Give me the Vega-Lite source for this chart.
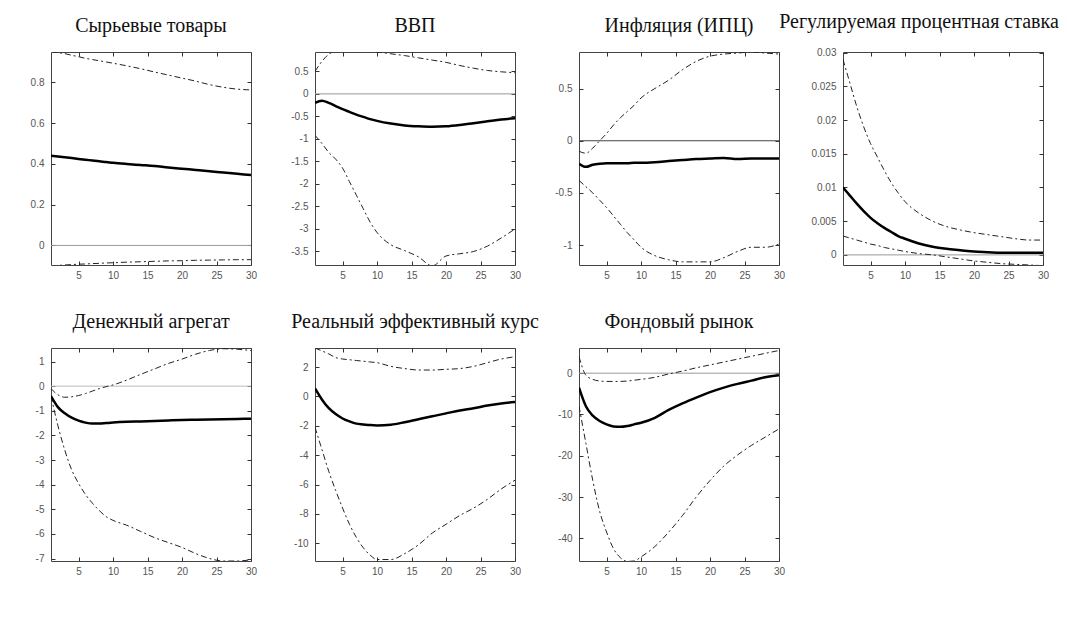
{
"$schema": "https://vega.github.io/schema/vega-lite/v6.json",
"background": "white",
"padding": {"left": 29, "top": 11, "right": 5, "bottom": 5},
"config": {
  "view": {"stroke": "#444", "strokeWidth": 1},
  "axis": {"domain": false, "grid": false, "tickSize": -4, "tickColor": "#333", "labelFont": "Liberation Sans", "labelFontSize": 10, "labelColor": "#555", "labelOverlap": false, "labelFlush": false, "labelBound": false},
  "axisX": {"labelPadding": 9},
  "axisY": {"labelPadding": 11},
  "title": {"font": "Liberation Serif", "fontSize": 20, "fontWeight": "normal", "color": "#111", "offset": 16, "frame": "group"}
},
"datasets": {"d": [
{"p":"P1","t":1,"lo":-0.100,"mid":0.440,"hi":0.950},{"p":"P1","t":2,"lo":-0.098,"mid":0.436,"hi":0.945},{"p":"P1","t":3,"lo":-0.096,"mid":0.432,"hi":0.940},{"p":"P1","t":4,"lo":-0.094,"mid":0.428,"hi":0.932},{"p":"P1","t":5,"lo":-0.092,"mid":0.424,"hi":0.925},{"p":"P1","t":6,"lo":-0.091,"mid":0.420,"hi":0.917},{"p":"P1","t":7,"lo":-0.089,"mid":0.416,"hi":0.911},{"p":"P1","t":8,"lo":-0.088,"mid":0.412,"hi":0.905},{"p":"P1","t":9,"lo":-0.086,"mid":0.409,"hi":0.899},{"p":"P1","t":10,"lo":-0.085,"mid":0.405,"hi":0.893},{"p":"P1","t":12,"lo":-0.082,"mid":0.399,"hi":0.880},{"p":"P1","t":14,"lo":-0.080,"mid":0.394,"hi":0.866},{"p":"P1","t":16,"lo":-0.078,"mid":0.389,"hi":0.850},{"p":"P1","t":18,"lo":-0.076,"mid":0.382,"hi":0.835},{"p":"P1","t":20,"lo":-0.075,"mid":0.376,"hi":0.820},{"p":"P1","t":22,"lo":-0.073,"mid":0.370,"hi":0.805},{"p":"P1","t":24,"lo":-0.072,"mid":0.364,"hi":0.788},{"p":"P1","t":26,"lo":-0.071,"mid":0.357,"hi":0.775},{"p":"P1","t":28,"lo":-0.070,"mid":0.351,"hi":0.766},{"p":"P1","t":30,"lo":-0.070,"mid":0.345,"hi":0.762},
{"p":"P2","t":1,"lo":-0.92,"mid":-0.20,"hi":0.50},{"p":"P2","t":2,"lo":-1.10,"mid":-0.15,"hi":0.72},{"p":"P2","t":3,"lo":-1.30,"mid":-0.20,"hi":0.88},{"p":"P2","t":4,"lo":-1.45,"mid":-0.27,"hi":0.95},{"p":"P2","t":5,"lo":-1.65,"mid":-0.34,"hi":0.97},{"p":"P2","t":6,"lo":-1.95,"mid":-0.40,"hi":0.97},{"p":"P2","t":7,"lo":-2.25,"mid":-0.46,"hi":0.96},{"p":"P2","t":8,"lo":-2.55,"mid":-0.51,"hi":0.95},{"p":"P2","t":9,"lo":-2.85,"mid":-0.56,"hi":0.94},{"p":"P2","t":10,"lo":-3.08,"mid":-0.60,"hi":0.93},{"p":"P2","t":12,"lo":-3.35,"mid":-0.66,"hi":0.89},{"p":"P2","t":14,"lo":-3.48,"mid":-0.70,"hi":0.85},{"p":"P2","t":16,"lo":-3.62,"mid":-0.72,"hi":0.80},{"p":"P2","t":18,"lo":-3.82,"mid":-0.73,"hi":0.75},{"p":"P2","t":20,"lo":-3.60,"mid":-0.72,"hi":0.70},{"p":"P2","t":22,"lo":-3.55,"mid":-0.69,"hi":0.63},{"p":"P2","t":24,"lo":-3.50,"mid":-0.65,"hi":0.57},{"p":"P2","t":26,"lo":-3.38,"mid":-0.61,"hi":0.52},{"p":"P2","t":28,"lo":-3.20,"mid":-0.57,"hi":0.49},{"p":"P2","t":30,"lo":-3.00,"mid":-0.54,"hi":0.47},
{"p":"P3","t":1,"lo":-0.38,"mid":-0.22,"hi":-0.10},{"p":"P3","t":2,"lo":-0.44,"mid":-0.25,"hi":-0.12},{"p":"P3","t":3,"lo":-0.50,"mid":-0.23,"hi":-0.07},{"p":"P3","t":4,"lo":-0.57,"mid":-0.22,"hi":0.00},{"p":"P3","t":5,"lo":-0.64,"mid":-0.215,"hi":0.07},{"p":"P3","t":6,"lo":-0.72,"mid":-0.215,"hi":0.15},{"p":"P3","t":7,"lo":-0.80,"mid":-0.215,"hi":0.22},{"p":"P3","t":8,"lo":-0.88,"mid":-0.215,"hi":0.28},{"p":"P3","t":9,"lo":-0.95,"mid":-0.21,"hi":0.34},{"p":"P3","t":10,"lo":-1.02,"mid":-0.21,"hi":0.41},{"p":"P3","t":12,"lo":-1.10,"mid":-0.205,"hi":0.50},{"p":"P3","t":14,"lo":-1.14,"mid":-0.195,"hi":0.58},{"p":"P3","t":16,"lo":-1.16,"mid":-0.185,"hi":0.68},{"p":"P3","t":18,"lo":-1.16,"mid":-0.175,"hi":0.76},{"p":"P3","t":20,"lo":-1.16,"mid":-0.17,"hi":0.81},{"p":"P3","t":22,"lo":-1.12,"mid":-0.165,"hi":0.83},{"p":"P3","t":24,"lo":-1.06,"mid":-0.175,"hi":0.84},{"p":"P3","t":26,"lo":-1.02,"mid":-0.17,"hi":0.85},{"p":"P3","t":28,"lo":-1.02,"mid":-0.17,"hi":0.84},{"p":"P3","t":30,"lo":-0.99,"mid":-0.17,"hi":0.83},
{"p":"P4","t":1,"lo":0.0028,"mid":0.0100,"hi":0.0290},{"p":"P4","t":2,"lo":0.0025,"mid":0.0088,"hi":0.0255},{"p":"P4","t":3,"lo":0.0022,"mid":0.0076,"hi":0.0220},{"p":"P4","t":4,"lo":0.0019,"mid":0.0065,"hi":0.0190},{"p":"P4","t":5,"lo":0.0016,"mid":0.0055,"hi":0.0165},{"p":"P4","t":6,"lo":0.0014,"mid":0.0047,"hi":0.0145},{"p":"P4","t":7,"lo":0.0011,"mid":0.0040,"hi":0.0125},{"p":"P4","t":8,"lo":0.0009,"mid":0.0034,"hi":0.0107},{"p":"P4","t":9,"lo":0.0007,"mid":0.0028,"hi":0.0092},{"p":"P4","t":10,"lo":0.0005,"mid":0.0024,"hi":0.0079},{"p":"P4","t":12,"lo":0.0002,"mid":0.0017,"hi":0.0062},{"p":"P4","t":14,"lo":0.0000,"mid":0.0012,"hi":0.0050},{"p":"P4","t":16,"lo":-0.0003,"mid":0.0009,"hi":0.0042},{"p":"P4","t":18,"lo":-0.0006,"mid":0.0007,"hi":0.0037},{"p":"P4","t":20,"lo":-0.0009,"mid":0.0005,"hi":0.0033},{"p":"P4","t":22,"lo":-0.0011,"mid":0.0004,"hi":0.0030},{"p":"P4","t":24,"lo":-0.0013,"mid":0.0003,"hi":0.0027},{"p":"P4","t":26,"lo":-0.0014,"mid":0.0003,"hi":0.0024},{"p":"P4","t":28,"lo":-0.0015,"mid":0.0003,"hi":0.0022},{"p":"P4","t":30,"lo":-0.0016,"mid":0.0003,"hi":0.0022},
{"p":"P5","t":1,"lo":-0.40,"mid":-0.40,"hi":-0.10},{"p":"P5","t":2,"lo":-1.60,"mid":-0.85,"hi":-0.35},{"p":"P5","t":3,"lo":-2.60,"mid":-1.10,"hi":-0.45},{"p":"P5","t":4,"lo":-3.40,"mid":-1.28,"hi":-0.43},{"p":"P5","t":5,"lo":-3.95,"mid":-1.40,"hi":-0.38},{"p":"P5","t":6,"lo":-4.40,"mid":-1.48,"hi":-0.30},{"p":"P5","t":7,"lo":-4.75,"mid":-1.52,"hi":-0.20},{"p":"P5","t":8,"lo":-5.05,"mid":-1.52,"hi":-0.10},{"p":"P5","t":9,"lo":-5.30,"mid":-1.50,"hi":-0.02},{"p":"P5","t":10,"lo":-5.45,"mid":-1.48,"hi":0.05},{"p":"P5","t":12,"lo":-5.65,"mid":-1.45,"hi":0.25},{"p":"P5","t":14,"lo":-5.90,"mid":-1.43,"hi":0.48},{"p":"P5","t":16,"lo":-6.15,"mid":-1.41,"hi":0.70},{"p":"P5","t":18,"lo":-6.35,"mid":-1.39,"hi":0.92},{"p":"P5","t":20,"lo":-6.55,"mid":-1.37,"hi":1.10},{"p":"P5","t":22,"lo":-6.80,"mid":-1.36,"hi":1.30},{"p":"P5","t":24,"lo":-7.00,"mid":-1.35,"hi":1.45},{"p":"P5","t":26,"lo":-7.10,"mid":-1.34,"hi":1.52},{"p":"P5","t":28,"lo":-7.10,"mid":-1.33,"hi":1.50},{"p":"P5","t":30,"lo":-7.05,"mid":-1.32,"hi":1.45},
{"p":"P6","t":1,"lo":-2.1,"mid":0.55,"hi":3.3},{"p":"P6","t":2,"lo":-3.6,"mid":-0.20,"hi":3.1},{"p":"P6","t":3,"lo":-5.1,"mid":-0.80,"hi":2.9},{"p":"P6","t":4,"lo":-6.4,"mid":-1.20,"hi":2.65},{"p":"P6","t":5,"lo":-7.6,"mid":-1.50,"hi":2.55},{"p":"P6","t":6,"lo":-8.7,"mid":-1.70,"hi":2.5},{"p":"P6","t":7,"lo":-9.6,"mid":-1.85,"hi":2.45},{"p":"P6","t":8,"lo":-10.3,"mid":-1.90,"hi":2.4},{"p":"P6","t":9,"lo":-10.8,"mid":-1.95,"hi":2.35},{"p":"P6","t":10,"lo":-11.1,"mid":-1.97,"hi":2.3},{"p":"P6","t":12,"lo":-11.1,"mid":-1.92,"hi":2.05},{"p":"P6","t":14,"lo":-10.7,"mid":-1.75,"hi":1.9},{"p":"P6","t":16,"lo":-10.1,"mid":-1.55,"hi":1.8},{"p":"P6","t":18,"lo":-9.3,"mid":-1.35,"hi":1.8},{"p":"P6","t":20,"lo":-8.7,"mid":-1.15,"hi":1.85},{"p":"P6","t":22,"lo":-8.1,"mid":-0.95,"hi":1.9},{"p":"P6","t":24,"lo":-7.6,"mid":-0.80,"hi":2.05},{"p":"P6","t":26,"lo":-7.0,"mid":-0.62,"hi":2.3},{"p":"P6","t":28,"lo":-6.3,"mid":-0.48,"hi":2.55},{"p":"P6","t":30,"lo":-5.7,"mid":-0.38,"hi":2.7},
{"p":"P7","t":1,"lo":-8,"mid":-3.5,"hi":4.0},{"p":"P7","t":2,"lo":-17,"mid":-8.0,"hi":-0.5},{"p":"P7","t":3,"lo":-26,"mid":-10.3,"hi":-1.5},{"p":"P7","t":4,"lo":-33.5,"mid":-11.6,"hi":-1.9},{"p":"P7","t":5,"lo":-38.5,"mid":-12.4,"hi":-2.0},{"p":"P7","t":6,"lo":-42.5,"mid":-12.9,"hi":-2.0},{"p":"P7","t":7,"lo":-44.7,"mid":-13.0,"hi":-2.0},{"p":"P7","t":8,"lo":-45.6,"mid":-12.8,"hi":-1.9},{"p":"P7","t":9,"lo":-45.5,"mid":-12.4,"hi":-1.7},{"p":"P7","t":10,"lo":-44.5,"mid":-12.0,"hi":-1.5},{"p":"P7","t":12,"lo":-42,"mid":-10.8,"hi":-1.0},{"p":"P7","t":14,"lo":-38.5,"mid":-8.9,"hi":-0.2},{"p":"P7","t":16,"lo":-34.5,"mid":-7.3,"hi":0.5},{"p":"P7","t":18,"lo":-30,"mid":-5.9,"hi":1.3},{"p":"P7","t":20,"lo":-26,"mid":-4.6,"hi":2.0},{"p":"P7","t":22,"lo":-22.5,"mid":-3.5,"hi":2.7},{"p":"P7","t":24,"lo":-19.8,"mid":-2.6,"hi":3.4},{"p":"P7","t":26,"lo":-17.5,"mid":-1.8,"hi":4.1},{"p":"P7","t":28,"lo":-15.5,"mid":-1.0,"hi":4.8},{"p":"P7","t":30,"lo":-13.5,"mid":-0.5,"hi":5.5}
]},
"columns": 4,
"bounds": "flush",
"spacing": {"row": 83, "column": 64},
"concat": [
{"title": {"text": "Сырьевые товары"}, "width": 200, "height": 213, "resolve": {"axis": {"x": "independent", "y": "independent"}}, "layer": [
 {"data": {"values": [{"z": 0}]}, "mark": {"type": "rule", "color": "#999", "strokeWidth": 1}, "encoding": {"y": {"field": "z", "type": "quantitative", "title": null, "axis": {"orient": "right", "labels": false, "values": [0, 0.2, 0.4, 0.6, 0.8], "labelOverlap": false}}}},
 {"data": {"name": "d"}, "transform": [{"filter": "datum.p=='P1'"}, {"fold": ["lo", "hi"], "as": ["s", "v"]}], "mark": {"type": "line", "clip": true, "color": "#222", "strokeWidth": 1, "strokeDash": [6, 3, 2, 3], "interpolate": "monotone"}, "encoding": {"x": {"field": "t", "type": "quantitative", "title": null, "axis": {"orient": "top", "labels": false, "values": [5, 10, 15, 20, 25, 30]}}, "y": {"field": "v", "type": "quantitative", "title": null, "axis": null}, "detail": {"field": "s"}}},
 {"data": {"name": "d"}, "transform": [{"filter": "datum.p=='P1'"}], "mark": {"type": "line", "clip": true, "color": "#000", "strokeWidth": 2.5, "interpolate": "monotone"}, "encoding": {"x": {"field": "t", "type": "quantitative", "title": null, "scale": {"domain": [1, 30], "nice": false}, "axis": {"values": [5, 10, 15, 20, 25, 30], "labelExpr": "''+datum.value", "labelOverlap": false}}, "y": {"field": "mid", "type": "quantitative", "title": null, "scale": {"domain": [-0.096, 0.948], "nice": false, "zero": false}, "axis": {"values": [0, 0.2, 0.4, 0.6, 0.8], "labelExpr": "''+datum.value", "labelOverlap": false}}}}
]},
{"title": {"text": "ВВП"}, "width": 200, "height": 213, "resolve": {"axis": {"x": "independent", "y": "independent"}}, "layer": [
 {"data": {"values": [{"z": 0}]}, "mark": {"type": "rule", "color": "#999", "strokeWidth": 1}, "encoding": {"y": {"field": "z", "type": "quantitative", "title": null, "axis": {"orient": "right", "labels": false, "values": [-3.5, -3, -2.5, -2, -1.5, -1, -0.5, 0, 0.5], "labelOverlap": false}}}},
 {"data": {"name": "d"}, "transform": [{"filter": "datum.p=='P2'"}, {"fold": ["lo", "hi"], "as": ["s", "v"]}], "mark": {"type": "line", "clip": true, "color": "#222", "strokeWidth": 1, "strokeDash": [6, 3, 2, 3], "interpolate": "monotone"}, "encoding": {"x": {"field": "t", "type": "quantitative", "title": null, "axis": {"orient": "top", "labels": false, "values": [5, 10, 15, 20, 25, 30]}}, "y": {"field": "v", "type": "quantitative", "title": null, "axis": null}, "detail": {"field": "s"}}},
 {"data": {"name": "d"}, "transform": [{"filter": "datum.p=='P2'"}], "mark": {"type": "line", "clip": true, "color": "#000", "strokeWidth": 2.5, "interpolate": "monotone"}, "encoding": {"x": {"field": "t", "type": "quantitative", "title": null, "scale": {"domain": [1, 30], "nice": false}, "axis": {"values": [5, 10, 15, 20, 25, 30], "labelExpr": "''+datum.value", "labelOverlap": false}}, "y": {"field": "mid", "type": "quantitative", "title": null, "scale": {"domain": [-3.8, 0.93], "nice": false, "zero": false}, "axis": {"values": [-3.5, -3, -2.5, -2, -1.5, -1, -0.5, 0, 0.5], "labelExpr": "''+datum.value", "labelOverlap": false}}}}
]},
{"title": {"text": "Инфляция (ИПЦ)"}, "width": 200, "height": 213, "resolve": {"axis": {"x": "independent", "y": "independent"}}, "layer": [
 {"data": {"values": [{"z": 0}]}, "mark": {"type": "rule", "color": "#444", "strokeWidth": 1}, "encoding": {"y": {"field": "z", "type": "quantitative", "title": null, "axis": {"orient": "right", "labels": false, "values": [-1, -0.5, 0, 0.5], "labelOverlap": false}}}},
 {"data": {"name": "d"}, "transform": [{"filter": "datum.p=='P3'"}, {"fold": ["lo", "hi"], "as": ["s", "v"]}], "mark": {"type": "line", "clip": true, "color": "#222", "strokeWidth": 1, "strokeDash": [6, 3, 2, 3], "interpolate": "monotone"}, "encoding": {"x": {"field": "t", "type": "quantitative", "title": null, "axis": {"orient": "top", "labels": false, "values": [5, 10, 15, 20, 25, 30]}}, "y": {"field": "v", "type": "quantitative", "title": null, "axis": null}, "detail": {"field": "s"}}},
 {"data": {"name": "d"}, "transform": [{"filter": "datum.p=='P3'"}], "mark": {"type": "line", "clip": true, "color": "#000", "strokeWidth": 2.5, "interpolate": "monotone"}, "encoding": {"x": {"field": "t", "type": "quantitative", "title": null, "scale": {"domain": [1, 30], "nice": false}, "axis": {"values": [5, 10, 15, 20, 25, 30], "labelExpr": "''+datum.value", "labelOverlap": false}}, "y": {"field": "mid", "type": "quantitative", "title": null, "scale": {"domain": [-1.19, 0.85], "nice": false, "zero": false}, "axis": {"values": [-1, -0.5, 0, 0.5], "labelExpr": "''+datum.value", "labelOverlap": false}}}}
]},
{"title": {"text": "Регулируемая процентная ставка", "dx": -24}, "width": 200, "height": 213, "resolve": {"axis": {"x": "independent", "y": "independent"}}, "layer": [
 {"data": {"values": [{"z": 0}]}, "mark": {"type": "rule", "color": "#999", "strokeWidth": 1}, "encoding": {"y": {"field": "z", "type": "quantitative", "title": null, "axis": {"orient": "right", "labels": false, "values": [0, 0.005, 0.01, 0.015, 0.02, 0.025, 0.03], "labelOverlap": false}}}},
 {"data": {"name": "d"}, "transform": [{"filter": "datum.p=='P4'"}, {"fold": ["lo", "hi"], "as": ["s", "v"]}], "mark": {"type": "line", "clip": true, "color": "#222", "strokeWidth": 1, "strokeDash": [6, 3, 2, 3], "interpolate": "monotone"}, "encoding": {"x": {"field": "t", "type": "quantitative", "title": null, "axis": {"orient": "top", "labels": false, "values": [5, 10, 15, 20, 25, 30]}}, "y": {"field": "v", "type": "quantitative", "title": null, "axis": null}, "detail": {"field": "s"}}},
 {"data": {"name": "d"}, "transform": [{"filter": "datum.p=='P4'"}], "mark": {"type": "line", "clip": true, "color": "#000", "strokeWidth": 2.5, "interpolate": "monotone"}, "encoding": {"x": {"field": "t", "type": "quantitative", "title": null, "scale": {"domain": [1, 30], "nice": false}, "axis": {"values": [5, 10, 15, 20, 25, 30], "labelExpr": "''+datum.value", "labelOverlap": false}}, "y": {"field": "mid", "type": "quantitative", "title": null, "scale": {"domain": [-0.0015, 0.0301], "nice": false, "zero": false}, "axis": {"values": [0, 0.005, 0.01, 0.015, 0.02, 0.025, 0.03], "labelExpr": "''+datum.value", "labelOverlap": false}}}}
]},
{"title": {"text": "Денежный агрегат"}, "width": 200, "height": 213, "resolve": {"axis": {"x": "independent", "y": "independent"}}, "layer": [
 {"data": {"values": [{"z": 0}]}, "mark": {"type": "rule", "color": "#bbb", "strokeWidth": 1}, "encoding": {"y": {"field": "z", "type": "quantitative", "title": null, "axis": {"orient": "right", "labels": false, "values": [-7, -6, -5, -4, -3, -2, -1, 0, 1], "labelOverlap": false}}}},
 {"data": {"name": "d"}, "transform": [{"filter": "datum.p=='P5'"}, {"fold": ["lo", "hi"], "as": ["s", "v"]}], "mark": {"type": "line", "clip": true, "color": "#222", "strokeWidth": 1, "strokeDash": [6, 3, 2, 3], "interpolate": "monotone"}, "encoding": {"x": {"field": "t", "type": "quantitative", "title": null, "axis": {"orient": "top", "labels": false, "values": [5, 10, 15, 20, 25, 30]}}, "y": {"field": "v", "type": "quantitative", "title": null, "axis": null}, "detail": {"field": "s"}}},
 {"data": {"name": "d"}, "transform": [{"filter": "datum.p=='P5'"}], "mark": {"type": "line", "clip": true, "color": "#000", "strokeWidth": 2.5, "interpolate": "monotone"}, "encoding": {"x": {"field": "t", "type": "quantitative", "title": null, "scale": {"domain": [1, 30], "nice": false}, "axis": {"values": [5, 10, 15, 20, 25, 30], "labelExpr": "''+datum.value", "labelOverlap": false}}, "y": {"field": "mid", "type": "quantitative", "title": null, "scale": {"domain": [-7.1, 1.55], "nice": false, "zero": false}, "axis": {"values": [-7, -6, -5, -4, -3, -2, -1, 0, 1], "labelExpr": "''+datum.value", "labelOverlap": false}}}}
]},
{"title": {"text": "Реальный эффективный курс"}, "width": 200, "height": 213, "resolve": {"axis": {"x": "independent", "y": "independent"}}, "layer": [
 {"data": {"values": [{"z": 0}]}, "mark": {"type": "rule", "color": "#999", "strokeWidth": 1, "opacity": 0}, "encoding": {"y": {"field": "z", "type": "quantitative", "title": null, "axis": {"orient": "right", "labels": false, "values": [-10, -8, -6, -4, -2, 0, 2], "labelOverlap": false}}}},
 {"data": {"name": "d"}, "transform": [{"filter": "datum.p=='P6'"}, {"fold": ["lo", "hi"], "as": ["s", "v"]}], "mark": {"type": "line", "clip": true, "color": "#222", "strokeWidth": 1, "strokeDash": [6, 3, 2, 3], "interpolate": "monotone"}, "encoding": {"x": {"field": "t", "type": "quantitative", "title": null, "axis": {"orient": "top", "labels": false, "values": [5, 10, 15, 20, 25, 30]}}, "y": {"field": "v", "type": "quantitative", "title": null, "axis": null}, "detail": {"field": "s"}}},
 {"data": {"name": "d"}, "transform": [{"filter": "datum.p=='P6'"}], "mark": {"type": "line", "clip": true, "color": "#000", "strokeWidth": 2.5, "interpolate": "monotone"}, "encoding": {"x": {"field": "t", "type": "quantitative", "title": null, "scale": {"domain": [1, 30], "nice": false}, "axis": {"values": [5, 10, 15, 20, 25, 30], "labelExpr": "''+datum.value", "labelOverlap": false}}, "y": {"field": "mid", "type": "quantitative", "title": null, "scale": {"domain": [-11.2, 3.3], "nice": false, "zero": false}, "axis": {"values": [-10, -8, -6, -4, -2, 0, 2], "labelExpr": "''+datum.value", "labelOverlap": false}}}}
]},
{"title": {"text": "Фондовый рынок"}, "width": 200, "height": 213, "resolve": {"axis": {"x": "independent", "y": "independent"}}, "layer": [
 {"data": {"values": [{"z": 0}]}, "mark": {"type": "rule", "color": "#999", "strokeWidth": 1}, "encoding": {"y": {"field": "z", "type": "quantitative", "title": null, "axis": {"orient": "right", "labels": false, "values": [-40, -30, -20, -10, 0], "labelOverlap": false}}}},
 {"data": {"name": "d"}, "transform": [{"filter": "datum.p=='P7'"}, {"fold": ["lo", "hi"], "as": ["s", "v"]}], "mark": {"type": "line", "clip": true, "color": "#222", "strokeWidth": 1, "strokeDash": [6, 3, 2, 3], "interpolate": "monotone"}, "encoding": {"x": {"field": "t", "type": "quantitative", "title": null, "axis": {"orient": "top", "labels": false, "values": [5, 10, 15, 20, 25, 30]}}, "y": {"field": "v", "type": "quantitative", "title": null, "axis": null}, "detail": {"field": "s"}}},
 {"data": {"name": "d"}, "transform": [{"filter": "datum.p=='P7'"}], "mark": {"type": "line", "clip": true, "color": "#000", "strokeWidth": 2.5, "interpolate": "monotone"}, "encoding": {"x": {"field": "t", "type": "quantitative", "title": null, "scale": {"domain": [1, 30], "nice": false}, "axis": {"values": [5, 10, 15, 20, 25, 30], "labelExpr": "''+datum.value", "labelOverlap": false}}, "y": {"field": "mid", "type": "quantitative", "title": null, "scale": {"domain": [-45.5, 6.1], "nice": false, "zero": false}, "axis": {"values": [-40, -30, -20, -10, 0], "labelExpr": "''+datum.value", "labelOverlap": false}}}}
]}
]
}
